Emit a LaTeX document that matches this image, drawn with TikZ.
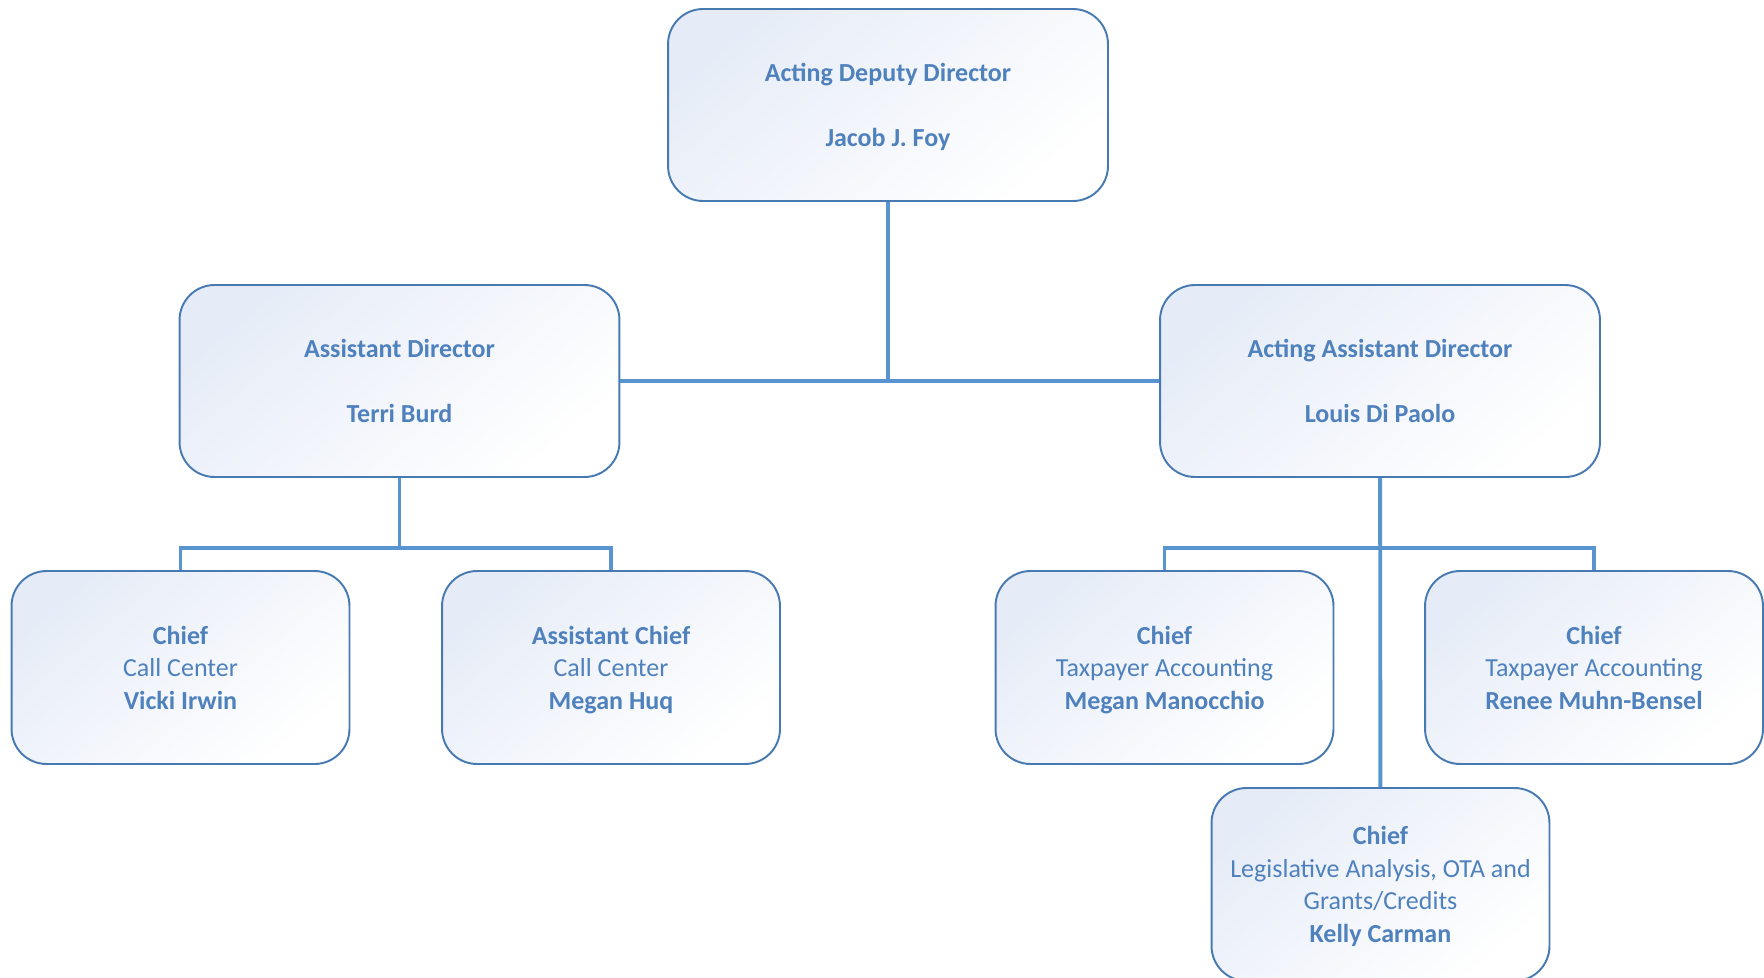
\documentclass[tikz,border=0pt]{standalone}
\usepackage{fontspec}
\setmainfont{Carlito}
\definecolor{boxline}{RGB}{72,122,178}
\definecolor{boxtext}{RGB}{79,129,189}
\definecolor{barline}{RGB}{88,148,208}
\definecolor{boxtint}{RGB}{230,236,247}
\begin{document}
\begin{tikzpicture}[x=0.02cm, y=-0.02cm,
    box/.style={draw=boxline, line width=1.1pt, rounded corners=0.7cm, align=center,
        text=boxtext, inner sep=0pt, top color=boxtint, bottom color=white, shading angle=40,
        font=\fontsize{14.8}{18.5}\selectfont, text depth=-1.8pt},
    big/.style={box, minimum width=8.8cm, minimum height=3.84cm},
    small/.style={box, minimum width=6.76cm, minimum height=3.86cm},
    bar/.style={draw=barline, line width=2.2pt}]
            \useasboundingbox (0,0) rectangle (1764,977);

            \node[big] (DD) at (888,105) {\textbf{Acting Deputy Director}\\[18.5pt]\textbf{Jacob J. Foy}};
            \node[big] (AD1) at (399.5,381) {\textbf{Assistant Director}\\[18.5pt]\textbf{Terri Burd}};
            \node[big] (AD2) at (1380,381) {\textbf{Acting Assistant Director}\\[18.5pt]\textbf{Louis Di Paolo}};

            \node[small] (C1) at (180.5,667.5) {\textbf{Chief}\\Call Center\\\textbf{Vicki Irwin}};
            \node[small] (C2) at (611,667.5) {\textbf{Assistant Chief}\\Call Center\\\textbf{Megan Huq}};
            \node[small] (C3) at (1164.5,667.5) {\textbf{Chief}\\Taxpayer Accounting\\\textbf{Megan Manocchio}};
            \node[small] (C4) at (1594,667.5) {\textbf{Chief}\\Taxpayer Accounting\\\textbf{Renee Muhn-Bensel}};
            \node[small] (C5) at (1380.5,884.5) {\textbf{Chief}\\Legislative Analysis, OTA and\\Grants/Credits\\\textbf{Kelly Carman}};

            \coordinate (L) at (399.5,548);
            \coordinate (R) at (1380,548);

            \draw[bar] (DD) -- (DD |- AD1);
            \draw[bar] (AD1) -- (AD2);
            \draw[bar] (AD1) -- (L);
            \draw[bar] (C1) |- (L) -| (C2);
            \draw[bar] (AD2) -- (C5);
            \draw[bar] (C3) |- (R) -| (C4);
        \end{tikzpicture}
\end{document}
